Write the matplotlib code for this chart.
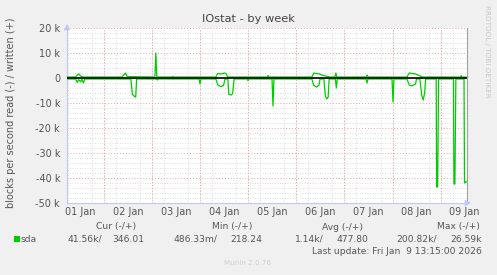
import matplotlib
matplotlib.use('Agg')
import matplotlib.pyplot as plt
from matplotlib.ticker import MultipleLocator
from matplotlib.patches import Rectangle

W, H = 497, 275
plt.rcParams['font.family'] = ['DejaVu Sans']

# ---- data (time in days since 01 Jan 00:00) ----
read_t = [0.219, 0.40, 0.43, 0.46, 0.50, 0.53, 0.56, 0.59, 1.55, 1.58, 1.62, 1.65, 1.67,
          2.08, 2.10, 2.12, 2.97, 2.99, 3.01, 3.32, 3.36, 3.42, 3.48, 3.51, 3.57, 3.59,
          3.64, 3.67, 3.70, 3.98, 3.99, 4.00, 4.49, 4.51, 4.53, 5.32, 5.36, 5.42, 5.47,
          5.49, 5.57, 5.60, 5.63, 5.66, 5.68, 5.81, 5.83, 5.85, 6.45, 6.47, 6.49, 6.99,
          7.01, 7.03, 7.30, 7.35, 7.40, 7.48, 7.50, 7.57, 7.61, 7.64, 7.67, 7.69, 7.91,
          7.92, 7.94, 7.96, 8.27, 8.28, 8.30, 8.32, 8.49, 8.50, 8.52, 8.552]
read_v = [-400, -400, -1800, -600, -1500, -400, -2000, -400, -400, -6500, -7300, -7600, -400,
          -400, -800, -400, -400, -2400, -400, -400, -2800, -3400, -3000, -400, -400, -6500,
          -6800, -6200, -400, -400, -1000, -400, -400, -11200, -400, -400, -3000, -3600, -2800,
          -400, -400, -7000, -8400, -7600, -400, -400, -4000, -400, -400, -2000, -400, -400,
          -9600, -400, -400, -2800, -3200, -2400, -400, -400, -7000, -8800, -6000, -400, -400,
          -43600, -43600, -400, -400, -42400, -42400, -400, -400, -42000, -41560, -41560]
write_t = [0.219, 0.40, 0.43, 0.47, 0.50, 0.55, 1.37, 1.39, 1.44, 1.47, 2.05, 2.07, 2.09,
           2.40, 2.42, 2.44, 3.32, 3.36, 3.42, 3.50, 3.53, 3.57, 4.39, 4.41, 4.43, 5.32,
           5.36, 5.42, 5.48, 5.52, 5.70, 5.80, 5.82, 5.84, 6.45, 6.47, 6.49, 7.30, 7.35,
           7.42, 7.48, 7.53, 7.62, 8.42, 8.43, 8.45, 8.552]
write_v = [400, 400, 1200, 1600, 800, 400, 400, 1000, 2000, 600, 400, 10000, 400,
           400, 600, 400, 400, 1800, 1600, 2000, 1800, 400, 400, 1000, 400, 400,
           2000, 1800, 1600, 1200, 400, 400, 2000, 400, 400, 1200, 400, 400, 2000,
           1800, 1600, 1200, 400, 400, 1000, 400, 346]

day_labels = ['01 Jan', '02 Jan', '03 Jan', '04 Jan', '05 Jan', '06 Jan', '07 Jan', '08 Jan', '09 Jan']
day_label_pos = [0.5, 1.5, 2.5, 3.5, 4.5, 5.5, 6.5, 7.5, 8.5]
day_lines = [1, 2, 3, 4, 5, 6, 7, 8]
ytick_vals = [20000, 10000, 0, -10000, -20000, -30000, -40000, -50000]
ytick_labels = ['20 k', '10 k', '0', '-10 k', '-20 k', '-30 k', '-40 k', '-50 k']
x_start, x_end = 0.219, 8.552

title = 'IOstat - by week'
ylabel = 'blocks per second read (-) / written (+)'
headers = ['Cur (-/+)', 'Min (-/+)', 'Avg (-/+)', 'Max (-/+)']
series_name = 'sda'
values = ['41.56k/', '346.01', '486.33m/', '218.24', '1.14k/', '477.80', '200.82k/', '26.59k']
last_update = 'Last update: Fri Jan  9 13:15:00 2026'
munin = 'Munin 2.0.76'
rrd = 'RRDTOOL / TOBI OETIKER'

GREEN = '#00cc00'
TXT = '#555555'


def P(x, y):
    return (x / W, 1 - y / H)


fig = plt.figure(figsize=(W / 100, H / 100), dpi=100, facecolor='#f0f0f0')
ax = fig.add_axes([67 / W, 72 / H, 400 / W, 175 / H])
ax.set_facecolor('white')
ax.set_xlim(x_start, x_end)
ax.set_ylim(-50000, 20000)

ax.set_xticks(day_label_pos)
ax.set_xticklabels(day_labels)
ax.xaxis.set_minor_locator(MultipleLocator(0.25))
ax.set_yticks(ytick_vals)
ax.set_yticklabels(ytick_labels)
ax.yaxis.set_minor_locator(MultipleLocator(2000))

dot = (0, (1, 2))
ax.grid(which='minor', color='#d4d4d4', ls=dot, lw=0.6)
ax.grid(which='major', axis='y', color='#e7a3a3', ls=dot, lw=0.7)
ax.grid(which='major', axis='x', visible=False)
for d in day_lines:
    ax.axvline(d, color='#e7a3a3', ls=dot, lw=0.7, zorder=0.6)
ax.set_axisbelow(True)

ax.tick_params(which='both', length=0, labelsize=7, colors=TXT)
ax.tick_params(axis='y', pad=5)
ax.tick_params(axis='x', pad=3)

ax.plot(write_t, write_v, color=GREEN, lw=0.9, zorder=3)
ax.plot(read_t, read_v, color=GREEN, lw=0.9, zorder=3)
ax.axhline(0, color='black', lw=1.2, zorder=4)

for s in ['top']:
    ax.spines[s].set_visible(False)
ax.spines['right'].set_color('#a0a0a0')
ax.spines['right'].set_linewidth(0.8)
ax.spines['left'].set_color('#c0c8f4')
ax.spines['bottom'].set_color('#c0c8f4')
ax.spines['left'].set_linewidth(0.8)
ax.spines['bottom'].set_linewidth(0.8)
ax.annotate('', xy=(0, 1 + 7 / 175), xytext=(0, 0.99), xycoords='axes fraction',
            arrowprops=dict(arrowstyle='-|>,head_length=0.35,head_width=0.18', color='#c0c8f4', lw=0.8),
            annotation_clip=False)
ax.annotate('', xy=(1 + 7 / 400, 0), xytext=(0.99, 0), xycoords='axes fraction',
            arrowprops=dict(arrowstyle='-|>,head_length=0.35,head_width=0.18', color='#c0c8f4', lw=0.8),
            annotation_clip=False)

fig.text(*P(248, 19), title, ha='center', va='center', fontsize=8.2, color='#444444')
fig.text(*P(11, 113), ylabel, ha='center', va='center', rotation=90, fontsize=7, color=TXT)
fig.text(*P(487, 51), rrd, ha='center', va='center', rotation=270, fontsize=5.2, color='#c8c8c8')

hdr_right = [136, 252, 363, 480]
for h, xr in zip(headers, hdr_right):
    fig.text(*P(xr, 227), h, ha='right', va='center', fontsize=6.6, color=TXT)

fig.patches.append(Rectangle(P(14, 242), 6 / W, 6 / H, transform=fig.transFigure,
                             facecolor=GREEN, edgecolor='none'))
fig.text(*P(20, 239), series_name, ha='left', va='center', fontsize=6.6, color=TXT)
val_right = [102, 144, 217, 262, 324, 368, 437, 482]
for v, xr in zip(values, val_right):
    fig.text(*P(xr, 239), v, ha='right', va='center', fontsize=6.6, color=TXT)

fig.text(*P(482, 251), last_update, ha='right', va='center', fontsize=6.6, color=TXT)
fig.text(*P(248, 263), munin, ha='center', va='center', fontsize=5.2, color='#cfcfcf')

fig.savefig('out.png', dpi=100, facecolor=fig.get_facecolor())
